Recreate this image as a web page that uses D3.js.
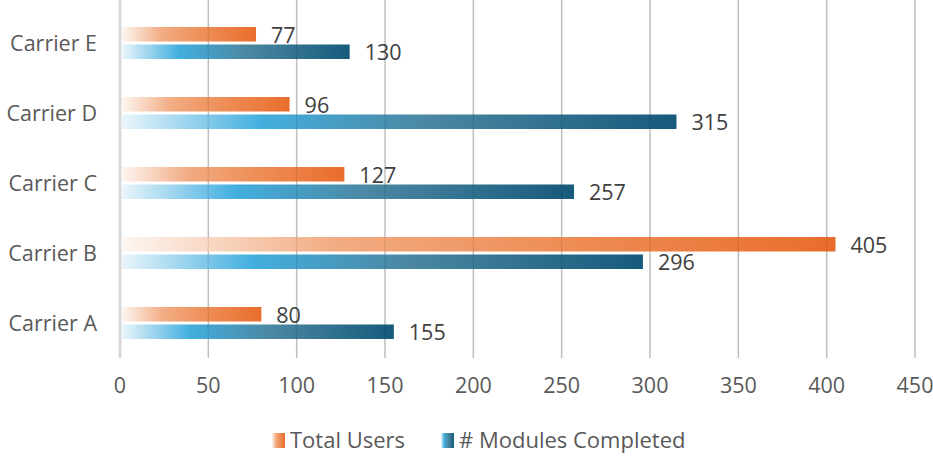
<!DOCTYPE html>
<html>
<head>
<meta charset="utf-8">
<script src="https://cdn.jsdelivr.net/npm/d3@7"></script>
<style>
  body { margin: 0; background: #fff; }
  text { font-family: "Open Sans", "Liberation Sans", sans-serif; }
</style>
</head>
<body>
<script>
var w = 933;
var h = 456;

// data, top category first as drawn
var carriers = ["Carrier E", "Carrier D", "Carrier C", "Carrier B", "Carrier A"];
var totalUsers = [77, 96, 127, 405, 80];
var modulesCompleted = [130, 315, 257, 296, 155];
var seriesNames = ["Total Users", "# Modules Completed"];
var xTicks = [0, 50, 100, 150, 200, 250, 300, 350, 400, 450];

var svg = d3.select("body").append("svg")
    .attr("width", w)
    .attr("height", h);

var defs = svg.append("defs");

function addGradient(id, stops) {
    var g = defs.append("linearGradient")
        .attr("id", id)
        .attr("x1", "0%").attr("x2", "100%")
        .attr("y1", "0%").attr("y2", "0%");
    stops.forEach(function (s) {
        g.append("stop").attr("offset", s[0]).attr("stop-color", s[1]);
    });
}

addGradient("gradOrange", [[0, "#fdf6f1"], [0.3, "#f2ab82"], [0.6, "#ee8f58"], [1, "#e96d2c"]]);
addGradient("gradBlue", [[0, "#eaf5fb"], [0.25, "#43afdf"], [0.55, "#4b87a2"], [1, "#165a7c"]]);

var x = d3.scaleLinear().domain([0, 450]).range([120, 915]);

var y = d3.scaleBand().domain(carriers).range([8, 358]);

var inner = d3.scaleBand().domain(seriesNames).range([19, 51]).paddingInner(0.17);

var rows = carriers.map(function (c, i) {
    return { cat: c, vals: [totalUsers[i], modulesCompleted[i]] };
});

//---grid-----
svg.append("g")
    .selectAll("line")
    .data(xTicks.slice(1))
    .join("line")
    .attr("x1", function (d) { return x(d); })
    .attr("x2", function (d) { return x(d); })
    .attr("y1", 0)
    .attr("y2", 358)
    .attr("stroke", "#cfcfcf")
    .attr("stroke-width", 1.5);

//---bars-----
var grads = ["url(#gradOrange)", "url(#gradBlue)"];

var groups = svg.append("g")
    .selectAll("g")
    .data(rows)
    .join("g")
    .attr("transform", function (d) { return "translate(0," + y(d.cat) + ")"; });

groups.selectAll("rect")
    .data(function (d) { return d.vals.map(function (v, i) { return { v: v, s: seriesNames[i], i: i }; }); })
    .join("rect")
    .attr("x", x(0) + 2)
    .attr("y", function (d) { return inner(d.s); })
    .attr("width", function (d) { return x(d.v) - x(0) - 2; })
    .attr("height", inner.bandwidth())
    .attr("fill", function (d) { return grads[d.i]; });

groups.selectAll("text")
    .data(function (d) { return d.vals.map(function (v, i) { return { v: v, s: seriesNames[i] }; }); })
    .join("text")
    .attr("x", function (d) { return x(d.v) + 15; })
    .attr("y", function (d) { return inner(d.s) + inner.bandwidth() + 1; })
    .attr("font-size", 21.5)
    .attr("fill", "#404040")
    .text(function (d) { return d.v; });

// faint gridlines over bars
svg.append("g")
    .selectAll("line")
    .data(xTicks.slice(1))
    .join("line")
    .attr("x1", function (d) { return x(d); })
    .attr("x2", function (d) { return x(d); })
    .attr("y1", 0)
    .attr("y2", 358)
    .attr("stroke", "rgba(0,0,0,0.08)")
    .attr("stroke-width", 1.5);

// axis line at zero
svg.append("line")
    .attr("x1", x(0)).attr("x2", x(0))
    .attr("y1", 0).attr("y2", 358)
    .attr("stroke", "#d9d9d9")
    .attr("stroke-width", 3);

//---category labels-----
svg.append("g")
    .selectAll("text")
    .data(carriers)
    .join("text")
    .attr("x", 97)
    .attr("y", function (d) { return y(d) + y.bandwidth() / 2 + 8; })
    .attr("text-anchor", "end")
    .attr("font-size", 21.5)
    .attr("fill", "#595959")
    .text(function (d) { return d; });

//---x axis labels-----
svg.append("g")
    .selectAll("text")
    .data(xTicks)
    .join("text")
    .attr("x", function (d) { return x(d); })
    .attr("y", 393)
    .attr("text-anchor", "middle")
    .attr("font-size", 21.5)
    .attr("fill", "#595959")
    .text(function (d) { return d; });

//---legend-----
var legendX = [272, 441];
var legend = svg.append("g")
    .selectAll("g")
    .data(seriesNames)
    .join("g")
    .attr("transform", function (d, i) { return "translate(" + legendX[i] + ",433)"; });

legend.append("rect")
    .attr("width", 13)
    .attr("height", 15)
    .attr("fill", function (d, i) { return grads[i]; });

legend.append("text")
    .attr("x", 18)
    .attr("y", 15)
    .attr("font-size", 22)
    .attr("fill", "#595959")
    .text(function (d) { return d; });
</script>
</body>
</html>
